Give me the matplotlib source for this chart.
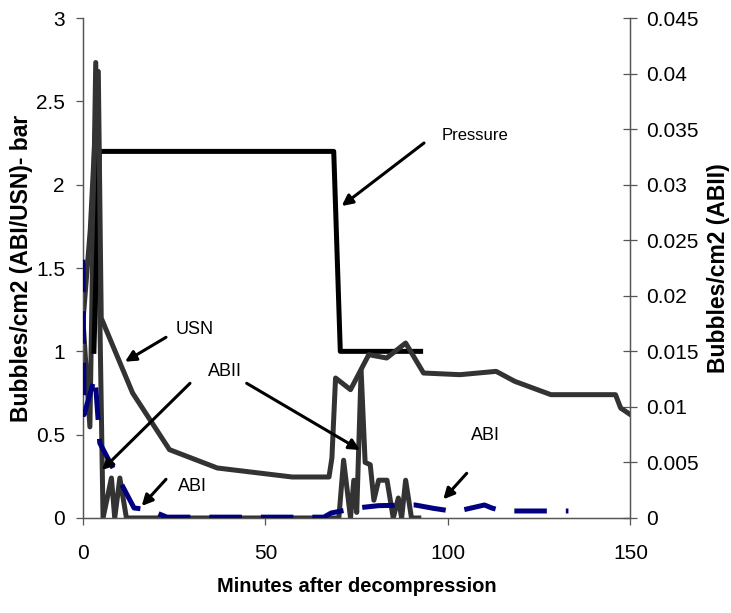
import numpy as np
import matplotlib.pyplot as plt

plt.rcParams['font.family'] = ['Liberation Sans', 'DejaVu Sans']

# minutes after decompression / values
pressure_t = [3.0, 4.5, 68.7, 70.5, 92.5]
pressure_bar = [1.0, 2.2, 2.2, 1.0, 1.0]

usn_t = [0, 2, 4.2, 5.0, 13.6, 23.7, 36.8, 57.3, 67.4, 68.2, 69.2, 73.3, 78.3,
         83.2, 88.4, 93.3, 103.3, 113.2, 118.3, 128.2, 145.9, 147.3, 150]
usn = [1.18, 1.73, 2.68, 1.2, 0.75, 0.41, 0.30, 0.246, 0.246, 0.36, 0.84, 0.77, 0.98,
       0.96, 1.05, 0.87, 0.86, 0.88, 0.82, 0.74, 0.74, 0.66, 0.62]

abi_t = [0, 0.3, 3.3, 4.6, 14, 18, 23, 66, 68, 75, 81, 91, 96, 102, 110, 112, 115, 133]
abi = [1.55, 0.62, 0.85, 0.45, 0.06, 0.05, 0.005, 0.005, 0.03, 0.06, 0.074, 0.078,
       0.058, 0.038, 0.078, 0.06, 0.042, 0.042]

abii_t = [0, 1.9, 3.5, 5.5, 7.8, 8.7, 10.1, 11.9, 70.1, 71.4, 73.3, 74.2, 75.0, 76.2,
          77.3, 78.7, 79.7, 81.0, 83.3, 85.0, 86.4, 87.3, 88.4, 90.0, 92.0]
abii = [0.0178, 0.0082, 0.041, 0.0, 0.0036, 0.0, 0.0036, 0.0, 0.0, 0.0052, 0.0, 0.0034,
        0.0005, 0.0133, 0.005, 0.0048, 0.0016, 0.0034, 0.0034, 0.0, 0.0018, 0.0,
        0.0034, 0.0, 0.0]

fig = plt.figure(figsize=(7.31, 6.13), dpi=100)
ax = fig.add_axes([0.1135, 0.155, 0.749, 0.8155])
ax2 = ax.twinx()
ax.set_zorder(2)
ax.patch.set_visible(False)

gray = '#333333'
ax2.plot(abii_t, abii, color=gray, lw=3.6)
ax.plot(pressure_t, pressure_bar, color='black', lw=3.6, zorder=1)
ax.plot(usn_t, usn, color=gray, lw=3.6, zorder=2)
ax.plot(abi_t, abi, color='#000080', lw=3.6, dashes=(6.5, 3.8), zorder=3)

ax.set_xlim(0, 150)
ax.set_ylim(0, 3)
ax2.set_ylim(0, 0.045)
ax.set_xticks([0, 50, 100, 150])
ax.set_yticks([0, 0.5, 1, 1.5, 2, 2.5, 3])
ax.set_yticklabels(['0', '0.5', '1', '1.5', '2', '2.5', '3'])
ax2.set_yticks(np.arange(0, 0.0451, 0.005))
ax2.set_yticklabels(['0', '0.005', '0.01', '0.015', '0.02', '0.025', '0.03',
                     '0.035', '0.04', '0.045'])

for a in (ax, ax2):
    a.spines['top'].set_visible(False)
    for s in ('left', 'right', 'bottom'):
        a.spines[s].set_color('#555555')
        a.spines[s].set_linewidth(0.9)
ax.tick_params(axis='both', labelsize=15, length=5, width=0.9, color='#555555', pad=8)
ax.tick_params(axis='x', pad=14)
ax2.tick_params(axis='y', direction='inout', labelsize=15, length=10, width=0.9,
                color='#555555', pad=6)

ax.set_xlabel('Minutes after decompression', fontsize=14.5, fontweight='bold', labelpad=10)
ax.set_ylabel('Bubbles/cm2 (ABI/USN)- bar', fontsize=16.5, fontweight='bold', labelpad=2)
ax2.set_ylabel('Bubbles/cm2 (ABII)', fontsize=16.5, fontweight='bold', labelpad=6)

arrow = dict(arrowstyle='-|>', color='black', lw=2.2, mutation_scale=16, shrinkA=0, shrinkB=0)


def px(x, y):
    # figure pixel (from top-left) -> figure fraction
    return (x / 731, 1 - y / 613)


ax.annotate('', xy=px(341.7, 206), xytext=px(424, 143), xycoords='figure fraction',
            textcoords='figure fraction', arrowprops=arrow)
ax.text(*px(442, 135), 'Pressure', transform=fig.transFigure, fontsize=12, va='center')

ax.annotate('', xy=px(125, 361.7), xytext=px(166, 337.3), xycoords='figure fraction',
            textcoords='figure fraction', arrowprops=arrow)
ax.text(*px(176, 330), 'USN', transform=fig.transFigure, fontsize=13, va='center')

ax.text(*px(208, 371), 'ABII', transform=fig.transFigure, fontsize=13, va='center')
ax.annotate('', xy=px(102, 470), xytext=px(190, 383.3), xycoords='figure fraction',
            textcoords='figure fraction', arrowprops=arrow)
ax.annotate('', xy=px(360, 450), xytext=px(246.7, 383.3), xycoords='figure fraction',
            textcoords='figure fraction', arrowprops=arrow)

ax.text(*px(178, 486.7), 'ABI', transform=fig.transFigure, fontsize=13, va='center')
ax.annotate('', xy=px(141.7, 506), xytext=px(166, 479.3), xycoords='figure fraction',
            textcoords='figure fraction', arrowprops=arrow)

ax.text(*px(471, 435), 'ABI', transform=fig.transFigure, fontsize=13, va='center')
ax.annotate('', xy=px(443.3, 499.3), xytext=px(466.7, 473.3), xycoords='figure fraction',
            textcoords='figure fraction', arrowprops=arrow)

fig.savefig('out.png', dpi=100)
